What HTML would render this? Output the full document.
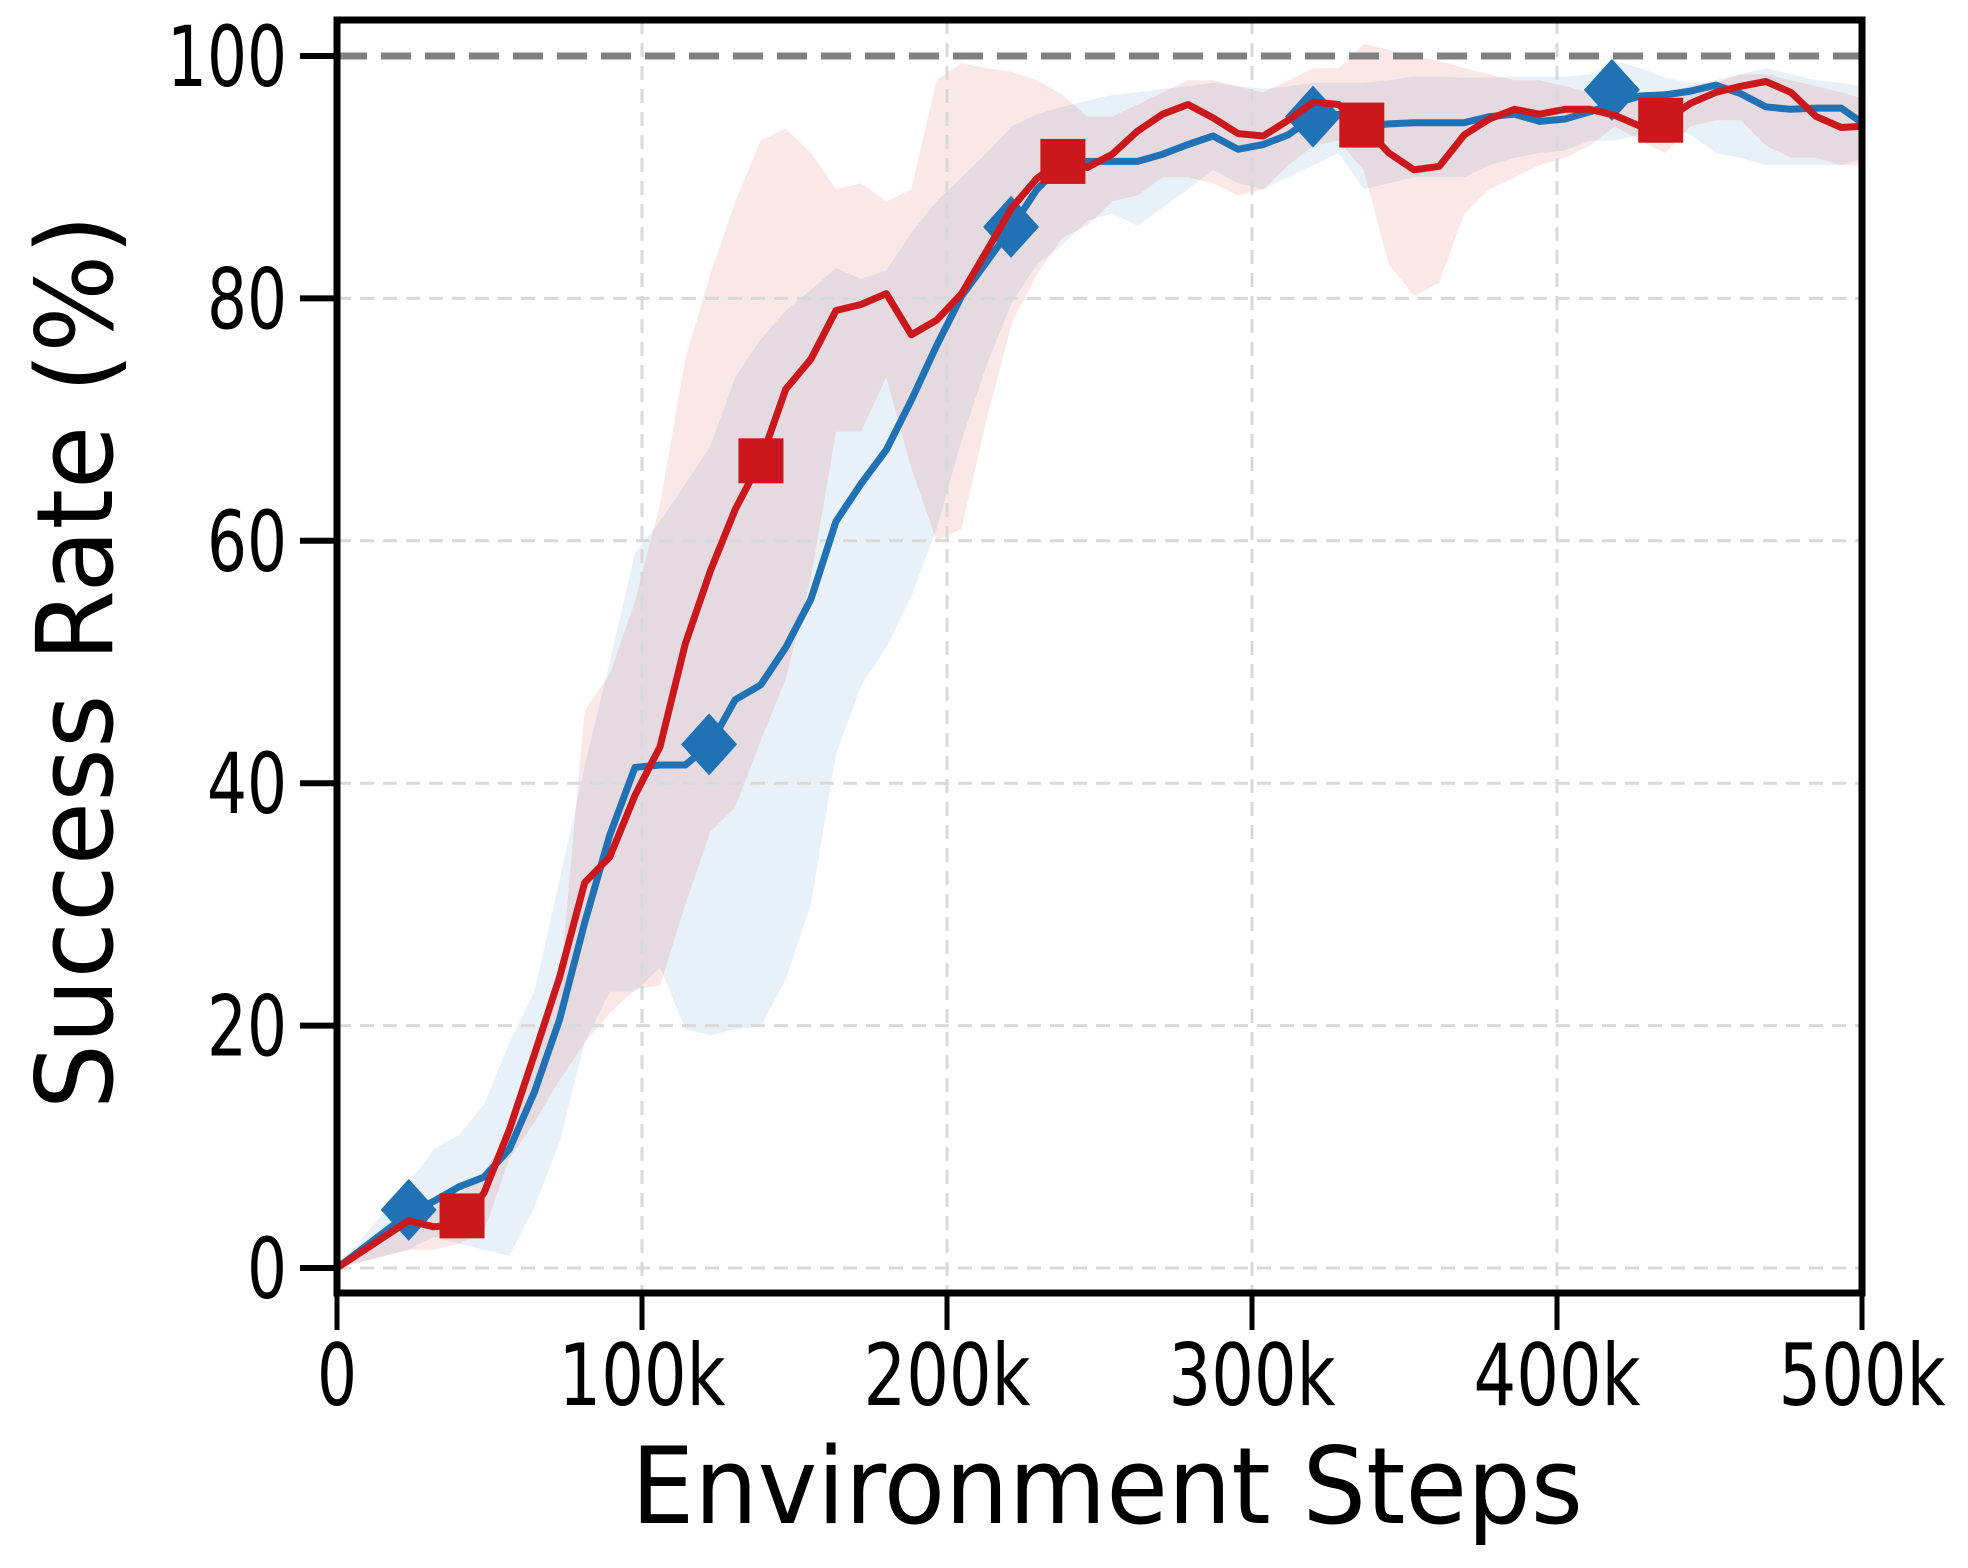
<!DOCTYPE html>
<html><head><meta charset="utf-8"><style>
html,body{margin:0;padding:0;background:#fff;}
svg{display:block;}
text{font-family:"DejaVu Sans","Liberation Sans",sans-serif;font-stretch:condensed;fill:#000;}
</style></head><body>
<svg id="chart" width="1968" height="1568" viewBox="0 0 1968 1568" xmlns="http://www.w3.org/2000/svg">
<g id="bands"></g>
<g id="grid"></g>
<g id="lines"></g>
<g id="axes"></g>
</svg>
<script>
const steps = [0,23.5,31.7,40,48.2,56.5,64.7,73,81.2,89.4,97.7,105.9,114.2,122.4,130.6,138.9,147.1,155.4,163.6,171.8,180.1,188.3,196.6,204.8,213,221.3,229.5,237.8,246,254.2,262.5,270.7,279,287.2,295.4,303.7,311.9,320.2,328.4,336.6,344.9,353.1,361.4,369.6,377.8,386.1,394.3,402.6,410.8,419,427.3,435.5,443.8,452,460.2,468.5,476.7,485,493.2,500];
const redMean = [0,3.9,3.4,3.6,6.2,11.4,17.6,24,31.8,33.9,39,43,51.5,57.5,62.6,66.6,72.5,75,79,79.5,80.4,77,78.2,80.4,83.9,87.5,89.9,91.4,90.8,91.9,93.8,95.2,96,94.9,93.6,93.4,94.7,96.2,96,94.2,92,90.6,90.9,93.5,94.8,95.6,95.2,95.6,95.6,95.1,94.2,94.7,96.1,97,97.5,97.9,97,95,94.1,94.2];
const redUpper = [0,4,5,6,8,11,17,23,46,49,55,63,75,82,88,93,94,92,89,89.5,88,89,98,99.4,99,98.7,98,96.8,95,95,96,97,98,98,97.5,97,98,99,99,101,100.5,100,99.6,99,98.5,98,98,97.5,97,97,97,97,97.5,98,98.5,98.5,98,97.5,97,96.5];
const redLower = [0,1.5,1.5,2,3,9,12,15.5,18.6,21,23,23.3,30,36,38,43.5,48.6,57,69,69,73.5,66,60,61,70,78,82,85,86,88,88.5,90,90,89.5,88.5,89,91,92.6,93,90.6,82.8,80.2,81.3,87,89,90,91,91.6,92.6,94.2,93,92,94.2,94.7,94.7,92.6,91.6,91.6,91,91];
const blueMean = [0,4.5,5.5,6.7,7.5,9.8,14.5,20.5,28.5,35.7,41.3,41.5,41.5,43.2,46.9,48.1,51.2,55.2,61.6,64.7,67.5,71.6,76.1,80.2,83,85.9,89,91.1,91.3,91.3,91.3,91.9,92.7,93.4,92.3,92.7,93.5,95,95.2,94.2,94.4,94.5,94.5,94.5,95,95.2,94.6,94.8,95.4,96.1,96.7,96.8,97.1,97.6,96.9,95.8,95.6,95.7,95.7,94.5];
const blueUpper = [0,7,9.8,11,13.5,18.6,22.8,32,41.4,50,59,61.6,64.7,67.8,73.5,76.6,79,80.7,82.5,81.6,82.3,85.4,88,90,92,94.2,95.2,95.8,96.3,96.8,97,97.3,97.5,97.8,97.5,97.3,97.5,97.8,97.8,97.8,98,98.3,98.3,98.2,98.2,98.3,98.3,98.3,98.5,99.6,99,98.2,97.8,97.8,98.5,99,98.5,98,97.8,97.5];
const blueLower = [0,1.5,2.6,2,1.5,1,5,10.4,18.6,22.8,22.8,24.8,19.7,19.2,19.7,19.9,23.8,30,42.4,48,51.2,55.4,61,68.3,74.5,79.7,82.8,84.4,86.4,87,86,87.5,89,90.6,89.5,89,90,91,92,89,89.5,90,90,90,91,91.6,92,92.2,93,93,93.5,94.2,93.5,92,91.6,91,91,91,91,91.5];
const blueMarkerSteps = [23.5,122,221,320,418];
const blueMarkerVals = [4.8,43.2,85.9,95,97.2];
const redMarkerSteps = [41,139,238,336,434];
const redMarkerVals = [4.3,66.6,91.3,94.3,94.7];
const xTicks = [0,100,200,300,400,500];
const xTickLabels = ["0","100k","200k","300k","400k","500k"];
const yTicks = [0,20,40,60,80,100];
const yTickLabels = ["0","20","40","60","80","100"];

const L=337,R=1862,T=20,B=1293,Y0=1268,Y100=56;
const NS="http://www.w3.org/2000/svg";
function sx(k){return L+(k/500)*(R-L);}
function sy(v){return Y0-(v/100)*(Y0-Y100);}
function mk(tag,attrs,parent){const e=document.createElementNS(NS,tag);for(const a in attrs)e.setAttribute(a,attrs[a]);parent.appendChild(e);return e;}
const gB=document.getElementById('bands'),gG=document.getElementById('grid'),gL=document.getElementById('lines'),gA=document.getElementById('axes');

function band(up,lo,color,op,name){
  let d='';
  for(let i=0;i<steps.length;i++)d+=(i?'L':'M')+sx(steps[i]).toFixed(1)+','+sy(up[i]).toFixed(1);
  for(let i=steps.length-1;i>=0;i--)d+='L'+sx(steps[i]).toFixed(1)+','+sy(lo[i]).toFixed(1);
  const p=mk('path',{d:d+'Z',fill:color,'fill-opacity':op,stroke:'none'},gB);
  
  
}
band(blueUpper,blueLower,'#2171b5',0.1,'blue-band');
band(redUpper,redLower,'#cb181d',0.1,'red-band');

for(const t of xTicks){ if(t===0||t===500)continue;
  const l=mk('line',{x1:sx(t),x2:sx(t),y1:T,y2:B,stroke:'#d9d9d9','stroke-width':3,'stroke-dasharray':'14,9'},gG);
  
  
}
for(const t of yTicks){ if(t===100)continue;
  const l=mk('line',{x1:L,x2:R,y1:sy(t),y2:sy(t),stroke:'#d9d9d9','stroke-width':3,'stroke-dasharray':'14,9'},gG);
  
  
}
const ref=mk('line',{x1:L,x2:R,y1:sy(100),y2:sy(100),stroke:'#808080','stroke-width':7,'stroke-dasharray':'30,14'},gG);



function line(vals,color,name){
  let d='';
  for(let i=0;i<steps.length;i++)d+=(i?'L':'M')+sx(steps[i]).toFixed(1)+','+sy(vals[i]).toFixed(1);
  const p=mk('path',{d:d,fill:'none',stroke:color,'stroke-width':7,'stroke-linejoin':'round'},gL);
  
  
}
line(blueMean,'#2171b5','blue-mean-line');
for(let i=0;i<blueMarkerSteps.length;i++){
  const x=sx(blueMarkerSteps[i]),y=sy(blueMarkerVals[i]);
  const p=mk('polygon',{points:`${x},${y-31} ${x+28},${y} ${x},${y+31} ${x-28},${y}`,fill:'#2171b5'},gL);
  
  
}
line(redMean,'#cb181d','red-mean-line');
for(let i=0;i<redMarkerSteps.length;i++){
  const x=sx(redMarkerSteps[i]),y=sy(redMarkerVals[i]);
  const r=mk('rect',{x:x-22.5,y:y-22.5,width:45,height:45,fill:'#cb181d'},gL);
  
  
}

const fr=mk('rect',{x:L,y:T,width:R-L,height:B-T,fill:'none',stroke:'#000','stroke-width':7},gA);


for(let i=0;i<xTicks.length;i++){
  const x=sx(xTicks[i]);
  const tk=mk('line',{x1:x,x2:x,y1:B,y2:B+37,stroke:'#000','stroke-width':5},gA);
  
  
  const s=xTickLabels[i];
  const tx=mk('text',{x:x,y:1405,'font-size':86,'text-anchor':'middle',textLength:s.length===1?40:167,lengthAdjust:'spacingAndGlyphs'},gA);
  tx.textContent=s;
  
  
}
for(let i=0;i<yTicks.length;i++){
  const y=sy(yTicks[i]);
  const tk=mk('line',{x1:L-37,x2:L,y1:y,y2:y,stroke:'#000','stroke-width':6},gA);
  
  
  const s=yTickLabels[i];
  const tx=mk('text',{x:287,y:y+30,'font-size':84,'text-anchor':'end',textLength:s.length*40,lengthAdjust:'spacingAndGlyphs'},gA);
  tx.textContent=s;
  
  
}
</script>
<svg style="position:absolute;left:0;top:0" width="1968" height="1568">
<text x="1107" y="1523" font-size="106" text-anchor="middle" textLength="952" lengthAdjust="spacingAndGlyphs" style="font-family:'DejaVu Sans','Liberation Sans',sans-serif;font-stretch:condensed">Environment Steps</text>
<text x="0" y="0" font-size="106" text-anchor="middle" textLength="895" lengthAdjust="spacingAndGlyphs" transform="translate(112,662) rotate(-90)" style="font-family:'DejaVu Sans','Liberation Sans',sans-serif;font-stretch:condensed">Success Rate (%)</text>
</svg>
</body></html>
